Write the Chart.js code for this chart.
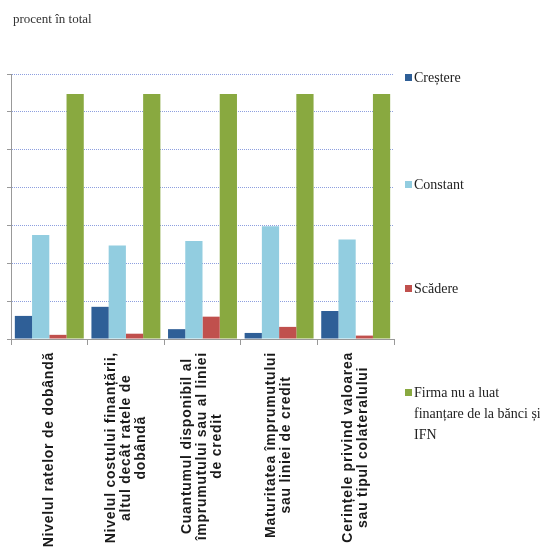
<!DOCTYPE html>
<html lang="ro">
<head>
<meta charset="utf-8">
<title>Procent în total</title>
<script src="https://cdn.jsdelivr.net/npm/chart.js"></script>
<style>
    body { margin: 0; background: #fff; }
    #wrap { position: relative; width: 540px; height: 553px; }
    #chart { position: absolute; left: 0; top: 0; }
    .title {
        position: absolute; left: 13px; top: 11px;
        font: 13px "Liberation Serif", serif; color: #333;
    }
    .legend-item {
        position: absolute; left: 405px;
        font: 14px/21px "Liberation Serif", serif; color: #222;
        padding-left: 9px; width: 130px;
    }
    .legend-item span {
        position: absolute; left: 0; top: 7px; width: 7px; height: 7px;
    }
</style>
</head>
<body>
<div id="wrap">
    <canvas id="chart" width="540" height="553"></canvas>
    <div class="title">procent în total</div>
    <div id="legend"></div>
</div>

<script>
// categories (one array of lines per label)
const categories = [
    ['Nivelul ratelor de dobândă'],
    ['Nivelul costului finanțării,', 'altul decât ratele de', 'dobândă'],
    ['Cuantumul disponibil al', 'împrumutului sau al liniei', 'de credit'],
    ['Maturitatea împrumutului', 'sau liniei de credit'],
    ['Cerințele privind valoarea', 'sau tipul colateralului']
];

// series values, percent of total
const crestere = [6.1, 8.5, 2.6, 1.6, 7.4];
const constant = [27.5, 24.7, 25.9, 29.8, 26.3];
const scadere  = [1.1, 1.4, 5.9, 3.2, 0.9];
const firma    = [64.7, 64.7, 64.7, 64.7, 64.7];

const seriesNames = ['Creștere', 'Constant', 'Scădere', 'Firma nu a luat finanțare de la bănci și IFN'];
const legendNames = ['Creștere', 'Constant', 'Scădere', 'Firma nu a luat<br>finanțare de la bănci și<br>IFN'];
const colors = ['#2f5f97', '#92cde0', '#c0504d', '#89a940'];
const legendTops = [67, 174, 278, 382];

// y axis range
const yMin = 0, yMax = 70, yStep = 10;

// legend, spaced down the right side
const legend = document.getElementById('legend');
legendNames.forEach((name, i) => {
    const d = document.createElement('div');
    d.className = 'legend-item';
    d.style.top = legendTops[i] + 'px';
    d.innerHTML = '<span style="background:' + colors[i] + '"></span>' + name;
    legend.appendChild(d);
});

// rotated category labels, lines centred on each other
const categoryLabels = {
    id: 'categoryLabels',
    afterDraw(chart) {
        const ctx = chart.ctx;
        const x = chart.scales.x;
        const top = x.bottom + 7;
        const lineH = 15;
        ctx.save();
        ctx.font = 'bold 14px "Liberation Sans", Arial, sans-serif';
        ctx.letterSpacing = '0.75px';
        ctx.fillStyle = '#1a1a1a';
        ctx.textBaseline = 'middle';
        ctx.textAlign = 'center';
        categories.forEach((lines, i) => {
            const cx = x.getPixelForValue(i);
            const w = Math.max(...lines.map(l => ctx.measureText(l).width));
            ctx.save();
            ctx.translate(cx, top);
            ctx.rotate(-Math.PI / 2);
            lines.forEach((l, j) => {
                const off = (j - (lines.length - 1) / 2) * lineH;
                ctx.fillText(l, -w / 2, off);
            });
            ctx.restore();
        });
        ctx.restore();
    }
};

new Chart(document.getElementById('chart'), {
    type: 'bar',
    data: {
        labels: categories.map(c => c.join(' ')),
        datasets: [crestere, constant, scadere, firma].map((d, i) => ({
            label: seriesNames[i],
            data: d,
            backgroundColor: colors[i],
            categoryPercentage: 0.9,
            barPercentage: 1
        }))
    },
    options: {
        responsive: false,
        animation: false,
        layout: { padding: { left: 7, right: 146, top: 74, bottom: 208 } },
        plugins: {
            legend: { display: false },
            tooltip: { enabled: false }
        },
        scales: {
            x: {
                grid: { drawOnChartArea: false, tickLength: 6, tickColor: '#999', offset: true },
                border: { color: '#999', width: 1 },
                ticks: { display: false }
            },
            y: {
                min: yMin, max: yMax,
                grid: { color: '#8d9fdf', tickColor: '#999', tickLength: 4, lineWidth: 1 },
                border: { color: '#999', width: 1, dash: [1, 1] },
                ticks: { display: false, stepSize: yStep }
            }
        }
    },
    plugins: [categoryLabels]
});
</script>
</body>
</html>
